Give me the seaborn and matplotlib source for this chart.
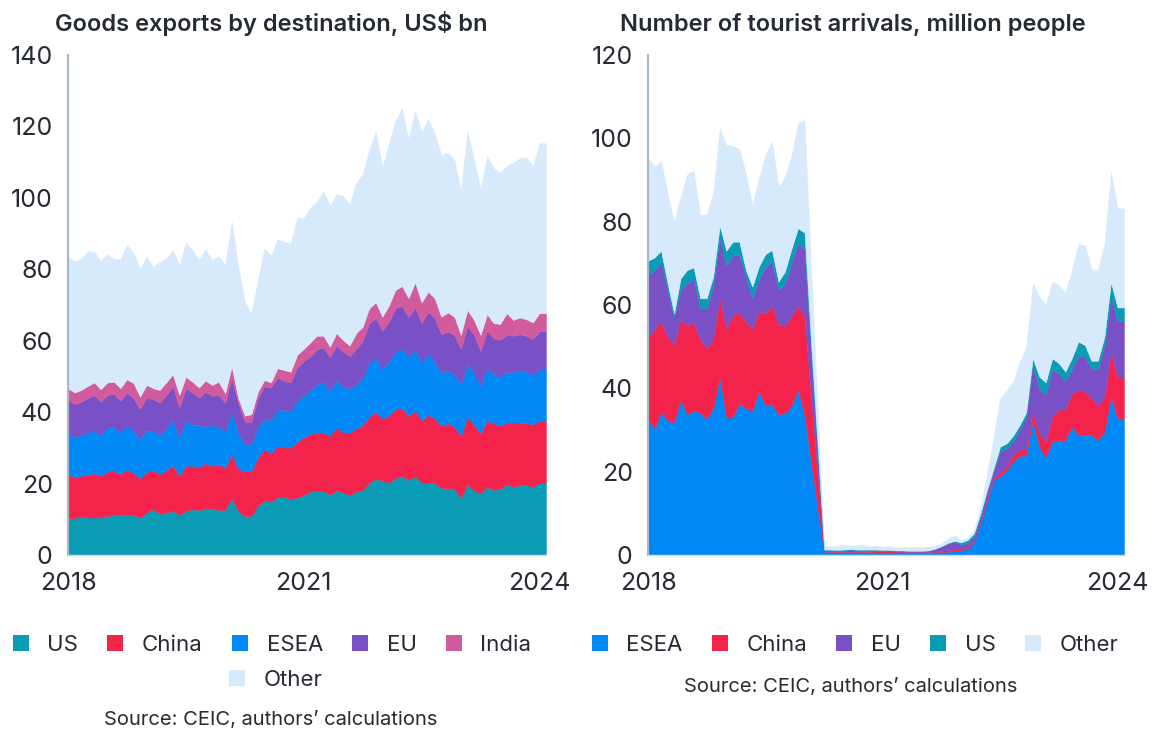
import numpy as np
import pandas as pd
import seaborn as sns
import matplotlib.pyplot as plt
from matplotlib.patches import Patch

# monthly, Jan 2018 - Feb 2024
months = pd.date_range("2018-01-01", periods=74, freq="MS")
year_ticks = ["2018", "2021", "2024"]

# goods exports by destination, US$ bn (stacked bottom -> top)
us_exp = [10.3, 10.3, 10.9, 10.5, 10.5, 10.5, 10.9, 11.2, 11.2, 11.4,
          11.2, 10.5, 11.9, 12.9, 11.5, 11.9, 12.4, 11.2, 12.4, 12.8,
          12.6, 12.9, 12.9, 12.6, 12.6, 15.9, 12.3, 10.9, 10.9, 13.8,
          15.2, 14.9, 16.3, 16.3, 15.7, 16.1, 16.8, 17.7, 18.0, 18.0,
          16.8, 18.2, 17.5, 16.8, 17.7, 18.2, 20.3, 21.3, 20.8, 20.3,
          21.5, 22.1, 21.0, 22.1, 20.3, 20.3, 20.1, 18.7, 18.7, 18.5,
          15.9, 19.8, 18.0, 17.3, 19.1, 18.2, 18.5, 19.8, 19.1, 19.6,
          19.6, 19.1, 20.3, 20.3]
china_exp = [12.4, 11.4, 11.3, 11.9, 12.4, 11.7, 12.4, 12.4, 11.4, 12.6,
             11.7, 11.0, 11.4, 10.7, 11.2, 11.7, 12.8, 11.0, 12.6, 12.2,
             11.9, 12.8, 12.1, 12.8, 11.7, 12.3, 11.7, 12.7, 12.6, 13.5,
             14.4, 13.6, 14.2, 13.8, 14.4, 15.6, 16.1, 16.2, 16.3, 16.3,
             16.6, 17.5, 16.8, 17.5, 17.6, 18.2, 18.4, 18.8, 17.4, 18.7,
             19.3, 19.0, 17.9, 18.3, 17.3, 18.9, 18.2, 17.5, 18.2, 17.4,
             17.5, 18.9, 18.4, 16.8, 18.5, 18.7, 17.7, 17.3, 18.0, 17.5,
             17.3, 17.5, 17.3, 17.3]
esea_exp = [11.4, 11.2, 11.4, 11.9, 11.8, 11.4, 12.4, 12.3, 11.5, 12.4,
            11.8, 10.9, 11.5, 11.1, 10.9, 11.9, 12.6, 10.7, 12.6, 11.4,
            11.8, 10.2, 11.4, 10.5, 10.2, 11.7, 10.1, 7.4, 7.3, 8.4,
            8.4, 9.3, 10.3, 10.2, 10.3, 11.5, 11.7, 12.3, 13.5, 14.0,
            12.6, 13.3, 12.8, 12.2, 12.5, 13.3, 15.2, 15.0, 13.8, 15.2,
            16.1, 16.6, 16.6, 17.0, 16.3, 17.3, 15.8, 14.7, 14.7, 14.5,
            14.4, 14.7, 14.7, 13.2, 14.7, 13.7, 13.7, 14.2, 14.0, 14.5,
            14.4, 13.8, 14.5, 14.5]
eu_exp = [9.3, 9.3, 9.3, 9.6, 10.1, 9.3, 9.1, 9.2, 9.1, 9.1,
          9.2, 8.4, 9.3, 8.9, 9.1, 9.3, 9.3, 8.4, 9.1, 9.1,
          7.8, 9.8, 8.2, 8.9, 8.1, 9.6, 8.4, 6.3, 6.5, 8.2,
          9.3, 9.1, 8.9, 8.4, 7.9, 9.3, 9.7, 9.3, 9.8, 9.8,
          9.3, 9.6, 9.8, 9.2, 9.9, 10.2, 11.0, 11.2, 10.8, 11.0,
          12.2, 12.1, 11.0, 11.9, 11.0, 11.6, 12.2, 10.9, 10.9, 11.2,
          9.8, 10.7, 10.5, 9.8, 10.5, 10.1, 10.3, 10.3, 10.3, 10.2,
          10.1, 10.0, 10.6, 10.6]
india_exp = [3.3, 3.3, 3.3, 3.4, 3.5, 3.5, 3.5, 3.4, 3.5, 3.7,
             4.2, 3.5, 3.5, 3.1, 3.5, 3.5, 3.5, 3.5, 3.2, 3.0,
             2.8, 3.1, 3.0, 3.7, 2.7, 3.2, 1.4, 1.7, 2.1, 1.8,
             1.7, 1.4, 2.6, 3.1, 3.0, 3.5, 3.4, 4.0, 3.8, 3.3,
             3.0, 3.5, 3.3, 2.9, 4.4, 4.0, 4.2, 4.4, 3.9, 4.6,
             5.1, 5.5, 5.4, 7.0, 5.8, 5.6, 5.6, 4.9, 5.4, 5.1,
             4.0, 4.5, 4.2, 4.5, 4.6, 4.2, 4.5, 6.1, 4.4, 4.7,
             4.6, 4.7, 5.0, 5.0]
other_exp = [36.6, 36.8, 36.6, 37.8, 36.5, 36.0, 36.0, 34.4, 36.2, 37.6,
             36.4, 35.7, 35.9, 34.0, 35.9, 34.8, 34.8, 36.4, 37.6, 36.9,
             35.7, 36.8, 35.0, 35.2, 36.0, 40.6, 36.8, 31.9, 28.3, 31.3,
             36.9, 35.5, 36.1, 35.9, 36.0, 38.5, 36.6, 37.8, 37.5, 40.5,
             39.5, 39.0, 40.4, 39.6, 42.0, 42.8, 44.3, 47.8, 42.0, 45.4,
             47.4, 49.8, 44.5, 48.1, 47.8, 48.4, 46.2, 45.3, 44.8, 43.9,
             40.8, 50.1, 44.8, 41.1, 44.3, 43.4, 42.4, 41.2, 44.1, 44.6,
             45.3, 43.8, 47.6, 47.6]

# tourist arrivals, million people (stacked bottom -> top)
esea_tour = [32.8, 30.2, 34.4, 32.2, 31.8, 37.2, 33.8, 34.6, 34.2, 32.6,
             35.2, 42.6, 33.0, 33.0, 36.4, 35.2, 34.6, 39.4, 35.8, 36.2,
             33.8, 34.0, 35.8, 39.6, 33.6, 22.5, 11.5, 0.8, 0.8, 0.7,
             0.8, 0.8, 0.7, 0.8, 0.7, 0.6, 0.6, 0.6, 0.6, 0.6,
             0.5, 0.5, 0.5, 0.5, 0.6, 0.7, 0.8, 1.0, 1.2, 1.4,
             3.0, 7.6, 12.8, 18.0, 18.9, 20.4, 22.4, 23.8, 24.0, 32.4,
             26.0, 23.4, 27.4, 27.4, 27.6, 30.8, 28.8, 28.8, 28.8, 27.6,
             29.6, 38.0, 32.8, 32.8]
china_tour = [19.2, 24.0, 21.6, 20.2, 18.6, 19.4, 21.2, 21.2, 17.4, 17.0,
              16.6, 19.0, 21.4, 24.4, 21.8, 20.8, 19.6, 19.0, 22.2, 23.6,
              21.4, 21.0, 21.4, 20.2, 23.6, 15.5, 8.0, 0.2, 0.2, 0.2,
              0.2, 0.3, 0.3, 0.2, 0.3, 0.4, 0.3, 0.3, 0.2, 0.2,
              0.2, 0.2, 0.2, 0.2, 0.2, 0.3, 0.4, 0.4, 0.4, 0.4,
              0.2, 0.4, 0.8, 0.6, 0.9, 0.8, 1.6, 1.4, 1.6, 2.0,
              3.2, 3.8, 6.0, 7.4, 7.4, 8.0, 10.6, 10.4, 8.8, 8.2,
              8.4, 10.8, 9.8, 9.8]
eu_tour = [15.2, 14.0, 14.2, 11.2, 6.6, 7.2, 10.2, 10.6, 7.6, 9.6,
           13.0, 14.4, 15.2, 14.6, 13.8, 10.8, 7.4, 7.6, 11.2, 10.6,
           8.4, 10.2, 12.8, 15.0, 16.2, 10.5, 5.5, 0.2, 0.2, 0.2,
           0.2, 0.2, 0.2, 0.2, 0.2, 0.2, 0.2, 0.2, 0.2, 0.2,
           0.2, 0.2, 0.2, 0.3, 0.6, 1.0, 1.5, 1.8, 0.8, 1.2,
           1.2, 1.2, 1.6, 1.6, 5.0, 4.4, 3.2, 4.8, 7.6, 11.2,
           10.6, 11.4, 11.2, 8.8, 6.6, 5.8, 8.4, 8.4, 7.0, 8.8,
           12.2, 13.2, 13.6, 13.6]
us_tour = [3.4, 3.2, 2.8, 1.6, 1.0, 2.6, 3.2, 2.6, 2.4, 2.4,
           2.0, 3.0, 3.4, 3.2, 3.2, 1.6, 2.8, 3.2, 3.0, 2.8,
           2.0, 2.8, 3.4, 3.6, 4.0, 2.6, 1.4, 0.1, 0.1, 0.1,
           0.1, 0.1, 0.1, 0.1, 0.1, 0.1, 0.1, 0.1, 0.1, 0.1,
           0.1, 0.1, 0.1, 0.1, 0.1, 0.1, 0.2, 0.2, 0.6, 0.6,
           0.8, 0.8, 0.4, 0.6, 1.2, 1.2, 1.4, 1.2, 1.0, 1.6,
           3.0, 2.8, 2.6, 2.4, 2.4, 2.6, 3.4, 2.8, 2.0, 2.0,
           2.2, 3.4, 3.2, 3.2]
other_tour = [24.6, 21.8, 21.6, 21.6, 22.0, 19.6, 23.0, 23.2, 20.0, 20.2,
              20.2, 23.4, 25.4, 23.0, 22.2, 23.2, 19.6, 21.2, 23.8, 26.0,
              22.8, 22.8, 22.4, 25.2, 27.0, 18.0, 9.5, 0.9, 0.8, 1.0,
              1.1, 0.9, 1.0, 1.2, 0.8, 1.0, 0.8, 0.9, 0.8, 0.9,
              0.9, 0.9, 0.9, 0.9, 0.7, 0.7, 1.1, 1.4, 0.6, 0.6,
              0.8, 1.6, 4.0, 7.6, 11.6, 12.8, 13.0, 15.2, 15.8, 18.0,
              19.2, 18.8, 18.4, 18.8, 19.0, 21.2, 23.4, 24.0, 22.0, 21.8,
              22.4, 26.6, 23.8, 23.8]

colors = {
    "US": "#0A9BB6",
    "China": "#F4234B",
    "ESEA": "#0089F5",
    "EU": "#7A50C6",
    "India": "#D15B9C",
    "Other": "#D6EAFC",
}
TEXT = "#262b33"

sns.set_theme(style="white")
plt.rcParams["font.family"] = ["Inter", "DejaVu Sans"]
plt.rcParams["text.color"] = TEXT

exports = pd.DataFrame({"US": us_exp, "China": china_exp, "ESEA": esea_exp,
                        "EU": eu_exp, "India": india_exp, "Other": other_exp},
                       index=months)
tourists = pd.DataFrame({"ESEA": esea_tour, "China": china_tour, "EU": eu_tour,
                         "US": us_tour, "Other": other_tour}, index=months)

W, H = 1153, 731
fig = plt.figure(figsize=(W / 100, H / 100), dpi=100)


def px_axes(x0, x1, y0, y1):
    return fig.add_axes([x0 / W, 1 - y1 / H, (x1 - x0) / W, (y1 - y0) / H])


def stacked(ax, df, ymax):
    cols = list(df.columns)
    ax.stackplot(np.arange(len(df)), *[df[c].values for c in cols],
                 colors=[colors[c] for c in cols],
                 edgecolor="face", linewidth=0.3)
    ax.set_xlim(0, len(df) - 1)
    ax.set_ylim(0, ymax)
    ax.set_yticks(np.arange(0, ymax + 1, 20))
    ax.set_xticks([0, 36, 72])
    ax.set_xticklabels(year_ticks)
    sns.despine(ax=ax)
    ax.spines["left"].set_color("#a9b8c6")
    ax.spines["left"].set_linewidth(1.6)
    ax.spines["bottom"].set_color("#d3dae1")
    ax.spines["bottom"].set_linewidth(1.0)
    ax.tick_params(length=0, labelsize=18, labelcolor=TEXT)
    ax.tick_params(axis="y", pad=11)
    ax.tick_params(axis="x", pad=12)
    ax.grid(False)


ax1 = px_axes(68, 546, 55, 555)
stacked(ax1, exports, 140)
ax2 = px_axes(648, 1124, 55, 555)
stacked(ax2, tourists, 120)

fig.text(55 / W, 1 - 24 / H, "Goods exports by destination, US$ bn",
         fontsize=17, fontweight="semibold", va="center", ha="left")
fig.text(620 / W, 1 - 24 / H, "Number of tourist arrivals, million people",
         fontsize=17, fontweight="semibold", va="center", ha="left")


def legend(names, cx, cy):
    handles = [Patch(facecolor=colors[n], edgecolor="none", label=n) for n in names]
    leg = fig.legend(handles=handles, ncol=len(names), loc="center",
                     bbox_to_anchor=(cx / W, 1 - cy / H), frameon=False,
                     fontsize=16, handlelength=0.72, handleheight=0.72,
                     handletextpad=0.85, columnspacing=1.3, borderpad=0)
    for t in leg.get_texts():
        t.set_color(TEXT)
    return leg


legend(["US", "China", "ESEA", "EU", "India"], 272, 645)
legend(["Other"], 276, 680)
legend(["ESEA", "China", "EU", "US", "Other"], 855, 645)

fig.text(271 / W, 1 - 720 / H, "Source: CEIC, authors\u2019 calculations",
         fontsize=14.5, ha="center", va="center")
fig.text(851 / W, 1 - 687 / H, "Source: CEIC, authors\u2019 calculations",
         fontsize=14.5, ha="center", va="center")

fig.savefig("out.png", dpi=100)
